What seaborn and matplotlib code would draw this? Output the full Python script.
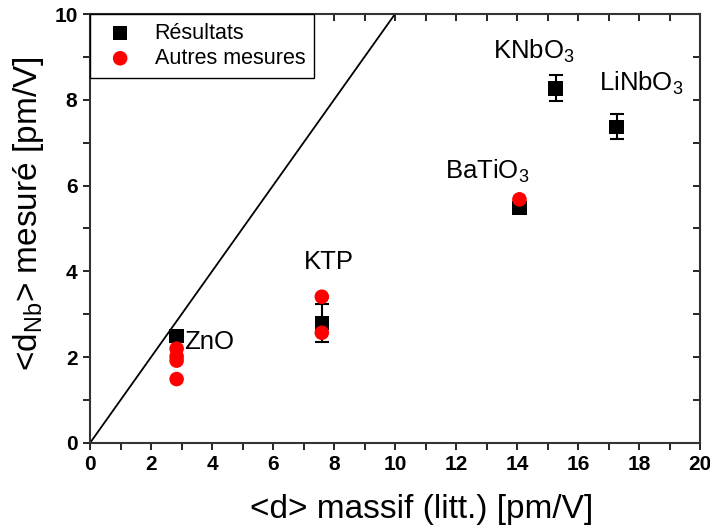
import matplotlib
matplotlib.use("Agg")
import matplotlib.pyplot as plt
import seaborn as sns
import pandas as pd
import numpy as np
from matplotlib.ticker import MultipleLocator

sns.set_theme(style="white")
plt.rcParams['font.family'] = ['Liberation Sans', 'DejaVu Sans']
plt.rcParams['mathtext.fontset'] = 'custom'
plt.rcParams['mathtext.rm'] = 'Liberation Sans'
plt.rcParams['mathtext.it'] = 'Liberation Sans:italic'
plt.rcParams['mathtext.bf'] = 'Liberation Sans:bold'
plt.rcParams['text.color'] = 'black'
plt.rcParams['axes.labelcolor'] = 'black'
plt.rcParams['xtick.color'] = 'black'
plt.rcParams['ytick.color'] = 'black'

# Results (black squares) with error bars
res_names = ["ZnO", "KTP", "BaTiO$_3$", "KNbO$_3$", "LiNbO$_3$"]
res_x = [2.84, 7.6, 14.08, 15.27, 17.27]
res_y = [2.49, 2.8, 5.48, 8.27, 7.37]
res_err = [0.0, 0.45, 0.0, 0.3, 0.29]

# Other measurements (red circles)
oth_x = [2.84, 2.84, 2.84, 2.84, 7.6, 7.6, 14.08]
oth_y = [2.2, 2.02, 1.92, 1.49, 3.41, 2.57, 5.68]

# Label positions (data coords, text left/baseline)
lab_x = [3.1, 7.0, 11.65, 13.2, 16.7]
lab_y = [2.2, 4.05, 6.15, 8.95, 8.2]

line_x = [0, 10]
line_y = [0, 10]

df_res = pd.DataFrame({"x": res_x, "y": res_y})
df_oth = pd.DataFrame({"x": oth_x, "y": oth_y})

fig = plt.figure(figsize=(7.10, 5.31), dpi=100)
ax = fig.add_axes([90/710, 88/531, 610/710, 429/531])

ax.plot(line_x, line_y, color="black", lw=1.3, zorder=1)
ax.errorbar(res_x, res_y, yerr=res_err, fmt="none", ecolor="black",
            elinewidth=1.5, capsize=5, capthick=1.5, zorder=2)
sns.scatterplot(data=df_res, x="x", y="y", marker="s", color="black",
                s=110, edgecolor="none", ax=ax, zorder=3, label="Résultats")
sns.scatterplot(data=df_oth, x="x", y="y", marker="o", color="red",
                s=110, edgecolor="none", ax=ax, zorder=4, label="Autres mesures")

for n, x, y in zip(res_names, lab_x, lab_y):
    ax.text(x, y, n, fontsize=18.5, color="black", ha="left", va="baseline")

ax.set_xlim(0, 20)
ax.set_ylim(0, 10)
ax.xaxis.set_major_locator(MultipleLocator(2))
ax.xaxis.set_minor_locator(MultipleLocator(1))
ax.yaxis.set_major_locator(MultipleLocator(2))
ax.yaxis.set_minor_locator(MultipleLocator(1))
ax.tick_params(axis="both", which="both", direction="out", length=5, width=1.2,
               colors="black", labelsize=15, pad=4,
               bottom=True, left=True, top=True, right=True,
               labeltop=False, labelright=False)
for lbl in ax.get_xticklabels() + ax.get_yticklabels():
    lbl.set_fontweight("bold")
for t in ax.xaxis.get_major_ticks() + ax.xaxis.get_minor_ticks():
    t.tick2line.set_marker(3)  # inside ticks on top
for t in ax.yaxis.get_major_ticks() + ax.yaxis.get_minor_ticks():
    t.tick2line.set_marker(0)  # inside ticks on right

for sp in ax.spines.values():
    sp.set_color("#333333")
    sp.set_linewidth(1.5)

ax.set_xlabel("<d> massif (litt.) [pm/V]", fontsize=24, color="black")
ax.set_ylabel(r"<d$_{\mathrm{Nb}}$> mesuré [pm/V]", fontsize=24, color="black")
ax.xaxis.set_label_coords(0.543, -0.118)
ax.yaxis.set_label_coords(-0.072, 0.535)

leg = ax.legend(loc="upper left", fontsize=15.5, frameon=True, fancybox=False,
                framealpha=1, edgecolor="black", borderaxespad=0,
                handletextpad=0.6, markerscale=1.0, borderpad=0.4,
                labelspacing=0.2)
leg.get_frame().set_linewidth(1.0)
for txt in leg.get_texts():
    txt.set_color("black")

fig.savefig("out.png", dpi=100)
